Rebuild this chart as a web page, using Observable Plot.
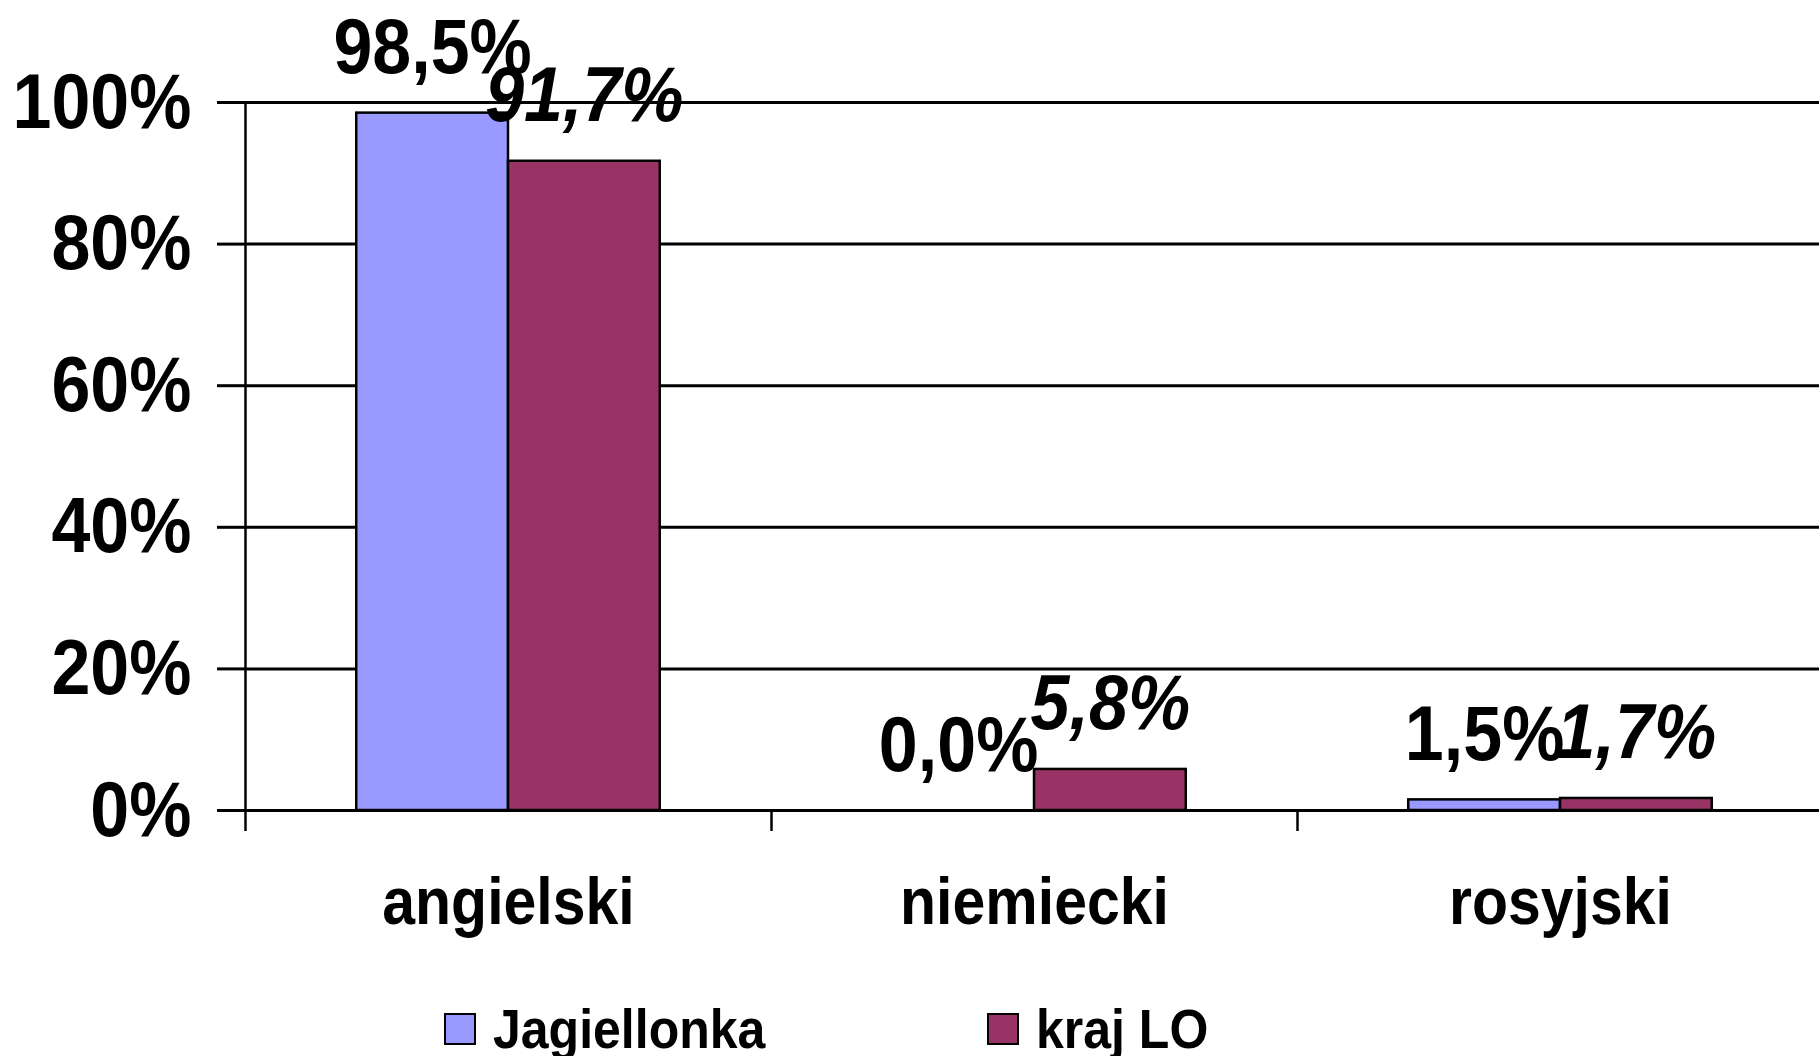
<!DOCTYPE html>
<html>
<head>
<meta charset="utf-8">
<script src="https://cdn.jsdelivr.net/npm/d3@7"></script>
<script src="https://cdn.jsdelivr.net/npm/@observablehq/plot@0.6"></script>
<style>
  html, body { margin: 0; padding: 0; background: #fff; }
  body { font-family: "Liberation Sans", Arial, sans-serif; }
  #wrap { width: 1819px; height: 1056px; overflow: hidden; position: relative; }
  #legend { position: relative; height: 66px; font-weight: bold; font-size: 50px; color: #000; }
  .item { position: absolute; top: 14px; display: flex; align-items: center; }
  .sw { width: 28px; height: 28px; border: 2px solid #000; margin-right: 17px; }
  .lbl { line-height: 50px; transform: scaleY(1.12); }
</style>
</head>
<body>
<div id="wrap">
  <div id="chart"></div>
  <div id="legend"></div>
</div>
<script>
const categories = ["angielski", "niemiecki", "rosyjski"];
const series = ["Jagiellonka", "kraj LO"];
const jagiellonka = [98.5, 0.0, 1.5];
const krajLO = [91.7, 5.8, 1.7];
const yTicks = [0, 20, 40, 60, 80, 100];
const colors = ["#9999FF", "#993366"];

const values = [jagiellonka, krajLO];
const rows = [];
series.forEach((s, si) => {
  categories.forEach((c, ci) => {
    rows.push({category: c, index: ci, series: s, si, value: values[si][ci]});
  });
});

const w = 0.2885; // bar width as a fraction of the category band
const x1 = d => d.index + 0.5 + (d.si === 0 ? -w : 0);
const x2 = d => d.index + 0.5 + (d.si === 0 ? 0 : w);
const xc = d => d.index + 0.5 + (d.si === 0 ? -w / 2 : w / 2);
const fmt = v => v.toFixed(1).replace(".", ",") + "%";

const labelOpts = (si) => ({
  x: xc, y: "value", text: d => fmt(d.value),
  lineAnchor: "bottom", dy: -40, fontSize: 70, fontWeight: "bold",
  fontStyle: si === 1 ? "italic" : "normal", fill: "#000"
});

const chart = Plot.plot({
  width: 1819,
  height: 990,
  marginTop: 102,
  marginBottom: 180,
  marginLeft: 245,
  marginRight: 0,
  style: {fontFamily: "'Liberation Sans', Arial, sans-serif", color: "#000", background: "#fff", overflow: "visible"},
  x: {domain: [0, categories.length], range: [245, 1823], axis: null},
  y: {domain: [0, 100], axis: null},
  color: {domain: series, range: colors},
  marks: [
    Plot.gridY(yTicks, {stroke: "#000", strokeOpacity: 1, strokeWidth: 3}),
    Plot.axisY(yTicks, {
      label: null, tickSize: 28, tickPadding: 26, strokeWidth: 3,
      tickFormat: d => d + "%", fontSize: 70, fontWeight: "bold"
    }),
    Plot.axisX(d3.range(categories.length + 1), {
      anchor: "bottom", label: null, tickSize: 21, tickFormat: () => "", strokeWidth: 2.5
    }),
    Plot.axisX(categories.map((c, i) => i + 0.5), {
      anchor: "bottom", label: null, tickSize: 0, tickPadding: 67,
      tickFormat: d => categories[Math.floor(d)], fontSize: 59, fontWeight: "bold"
    }),
    Plot.ruleX([0], {y1: 0, y2: 100, stroke: "#000", strokeWidth: 2.5}),
    Plot.rectY(rows.filter(d => d.value > 0), {
      x1, x2, y1: 0, y2: "value", fill: "series", stroke: "#000", strokeWidth: 2.5
    }),
    Plot.text(rows.filter(d => d.si === 0), labelOpts(0)),
    Plot.text(rows.filter(d => d.si === 1), labelOpts(1))
  ]
});
document.getElementById("chart").appendChild(chart);

// Stretch glyphs vertically (the source font is taller) around each text's own anchor
chart.querySelectorAll("text").forEach(t => {
  const ax = parseFloat(t.getAttribute("x")) || 0;
  const ay = parseFloat(t.getAttribute("y")) || 0;
  const tr = t.getAttribute("transform") || "";
  t.setAttribute("transform", `${tr} translate(${ax},${ay}) scale(1,1.12) translate(${-ax},${-ay})`.trim());
});

const legend = document.getElementById("legend");
const lefts = [444, 987];
series.forEach((s, i) => {
  const it = document.createElement("div");
  it.className = "item";
  it.style.left = lefts[i] + "px";
  const sw = document.createElement("div");
  sw.className = "sw";
  sw.style.background = colors[i];
  const lb = document.createElement("div");
  lb.className = "lbl";
  lb.textContent = s;
  it.appendChild(sw);
  it.appendChild(lb);
  legend.appendChild(it);
});
</script>
</body>
</html>
